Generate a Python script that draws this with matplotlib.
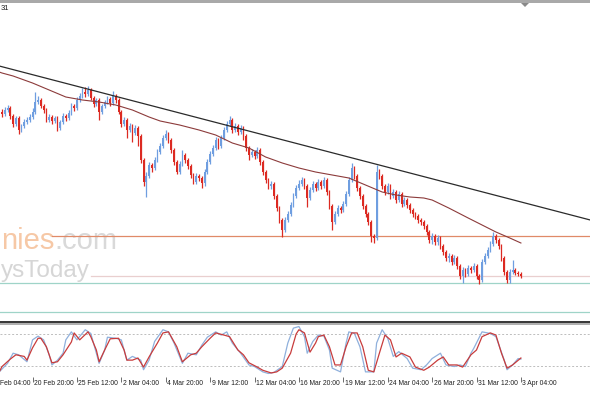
import matplotlib
matplotlib.use("Agg")
import matplotlib.pyplot as plt
from matplotlib.patches import Rectangle, Polygon
import matplotlib.transforms as mtransforms
import numpy as np

# ---------------- data (price in pips above an arbitrary base) ----------------
open_ = [218,216,220,222,214,206,212,200,204,208, 210,213,218,228,230,224,220,210,213,209,
         212,202,208,214,212,217,224,222,230,234, 238,236,240,232,226,230,218,224,228,231,
         227,234,230,218,206,210,200,204,197,202, 194,170,148,154,165,162,170,178,184,192,
         196,190,180,168,158,166,175,170,164,155, 148,154,152,147,158,168,176,182,190,184,
         192,200,206,210,200,204,198,202,194,182, 175,178,174,180,168,158,150,144,146,134,
         122,110,100,110,116,125,134,142,146,150, 144,132,140,146,142,148,144,150,138,124,
         108,116,122,120,126,136,150,162,154,142, 134,124,116,108,94,92,158,154,144,138,
         144,134,138,130,136,126,130,125,120,116, 114,110,108,104,98,90,94,88,92,84,
         78,72,74,68,72,64,54,60,56,62, 60,64,54,50,68,74,80,86,94,90,
         84,72,58,50,58,60,57,56]
close = [216,220,222,214,206,212,200,204,208,210, 213,218,228,230,224,220,210,213,209,212,
         202,208,214,212,217,224,222,230,234,238, 236,240,232,226,230,218,224,228,231,227,
         234,230,218,206,210,200,204,197,202,194, 170,148,154,165,162,170,178,184,192,196,
         190,180,168,158,166,175,170,164,155,148, 154,152,147,158,168,176,182,190,184,192,
         200,206,210,200,204,198,202,194,182,175, 178,174,180,168,158,150,144,146,134,122,
         110,100,110,116,125,134,142,146,150,144, 132,140,146,142,148,144,150,138,124,108,
         116,122,120,126,136,150,162,154,142,134, 124,116,108,94,92,158,154,144,138,144,
         134,138,130,136,126,130,125,120,116,114, 110,108,104,98,90,94,88,92,84,78,
         72,74,68,72,64,54,60,56,62,60, 64,54,50,68,74,80,86,94,90,84,
         72,58,50,58,60,57,56,54]
high = [221,223,225,224,216,214,214,206,211,213, 216,222,238,234,232,226,222,216,215,214,
        214,210,217,216,220,227,226,233,237,242, 243,244,242,234,232,232,226,230,234,233,
        239,236,232,220,213,212,207,206,205,204, 196,172,158,168,167,173,181,187,195,200,
        198,192,182,170,169,180,177,172,166,157, 157,156,154,161,171,179,185,193,192,195,
        203,209,214,212,207,206,205,204,196,184, 181,180,183,182,170,160,152,149,148,136,
        124,112,113,119,128,137,145,150,153,152, 146,143,149,148,151,150,153,152,140,126,
        119,125,124,129,139,153,167,164,156,144, 136,126,118,110,96,165,161,156,146,147,
        146,141,140,139,138,133,132,127,122,118, 116,112,110,106,100,97,96,95,94,86,
        80,77,76,75,74,66,63,62,65,64, 67,66,56,71,77,83,89,98,96,92,
        86,74,60,61,70,62,59,58]
low = [213,214,218,211,203,204,196,198,202,206, 208,211,216,226,222,217,208,208,206,207,
       199,200,206,209,210,215,219,220,228,232, 233,234,230,223,224,210,216,222,226,224,
       225,227,216,203,204,192,198,188,195,184, 167,144,133,152,158,160,168,176,182,190,
       187,177,165,156,156,164,167,161,152,146, 146,149,142,144,156,166,174,180,181,182,
       190,198,204,197,198,195,196,190,179,170, 173,171,172,165,155,147,141,141,131,119,
       107,93,98,108,114,123,132,140,144,141, 123,130,138,139,140,141,142,135,121,100,
       106,114,117,118,124,134,148,151,139,131, 121,113,105,88,87,90,151,141,135,136,
       131,132,127,128,123,124,122,117,113,111, 107,105,101,95,87,86,85,85,81,75,
       69,68,65,66,61,51,47,53,54,57, 58,51,46,48,66,72,78,84,87,81,
       69,55,47,47,56,55,54,52]

# moving average read at selected bars
ma_bars = [-1,0,4,11,17,23,29,35,41,47,53,57,64,71,77,83,89,95,101,107,113,119,125,
           131,137,142,147,152,155,161,168,173,178,183,187]
ma_vals = [258,257,254,247,240,233,230,228,225,220,213,209,205,200,195,187,182,173,167,
           162,158,155,152,145,138,135,133,132,130,122,112,105,98,92,87]

# descending trend line (two anchor points)
trend_bars = [-1, 212]
trend_vals = [264, 110]

# horizontal levels: value and first bar
level_vals = [94, 54, 47, 18]
level_start = [18, 32, -1, -1]

# stochastic oscillator
stoch_red_bars = [-1,0,3,5,8,9,11,13,14,16,18,20,22,25,26,28,31,32,34,35,37,39,42,44,45,47,49,51,
                  53,56,58,60,63,65,68,70,72,75,77,80,82,85,87,89,92,94,97,99,101,104,106,107,
                  109,111,113,114,116,118,120,122,124,126,128,130,132,134,136,138,140,142,144,
                  147,149,152,154,157,159,161,164,166,169,171,173,176,178,180,182,184,187]
stoch_red_vals = [9,19,33,41,38,31,54,72,72,56,26,28,41,65,82,69,84,75,50,28,50,71,72,50,31,31,35,18,
                  37,63,82,84,56,28,41,44,56,72,82,78,75,50,41,26,18,12,7,9,16,44,80,88,
                  82,46,63,75,78,56,22,22,56,82,82,56,12,9,44,78,69,37,44,
                  37,18,12,18,31,37,22,22,18,41,50,75,82,78,44,16,22,35]
stoch_blue_bars = [-1,2,4,6,9,11,13,15,17,18,20,22,23,25,27,30,32,34,35,37,38,41,43,45,47,50,51,53,
                   55,58,60,62,65,67,70,72,74,77,79,81,83,86,89,91,94,96,98,101,103,105,107,109,
                   110,112,114,116,118,119,122,124,125,127,129,131,134,135,137,139,141,143,146,148,
                   151,153,155,158,160,163,165,167,169,170,173,176,178,181,182,184,186,187]
stoch_blue_vals = [9,25,44,41,28,69,76,69,41,22,31,44,69,84,69,88,81,44,25,50,74,72,69,31,38,31,13,31,
                   66,88,84,63,25,44,41,59,74,84,78,84,63,44,22,19,9,6,8,19,63,91,94,75,
                   44,66,78,76,50,16,9,63,84,81,56,9,9,63,88,72,38,47,34,16,
                   13,22,34,44,22,19,22,19,44,53,84,81,75,31,13,22,34,33]
stoch_levels = [80, 20]

tick_bars = [11, 27, 43, 59, 75, 91, 107, 123, 139, 155, 171, 187]
tick_labels = ["20 Feb 20:00", "25 Feb 12:00", "2 Mar 04:00", "4 Mar 20:00",
               "9 Mar 12:00", "12 Mar 04:00", "16 Mar 20:00", "19 Mar 12:00", "24 Mar 04:00",
               "26 Mar 20:00", "31 Mar 12:00", "3 Apr 04:00"]
first_partial_label = "Feb 04:00"

# ---------------- figure ----------------
W, H = 590, 393
fig = plt.figure(figsize=(W / 100, H / 100), dpi=100)
fig.patch.set_facecolor("white")

def fy(py):
    return 1 - py / H

BULL = "#6f9ee0"
BEAR = "#dc2a22"
XL = (-0.72, 211.9)

main = fig.add_axes([0, fy(321), 1, (321 - 4) / H])
main.set_xlim(*XL)
main.set_ylim(9, 326)
main.axis("off")

o = np.array(open_, float)
c = np.array(close, float)
hi = np.array(high, float)
lo = np.array(low, float)
idx = np.arange(len(c))
cols = np.where(c >= o, BULL, BEAR)

main.vlines(idx, lo, hi, colors=cols, lw=0.9, zorder=3)
main.bar(idx, np.maximum(np.abs(c - o), 0.8), bottom=np.minimum(o, c), width=0.62,
         color=cols, linewidth=0, zorder=3)

main.plot(ma_bars, ma_vals, color="#8c3b3b", lw=0.8, zorder=4)
main.plot(trend_bars, trend_vals, color="#2b2b2b", lw=0.9, zorder=4)

level_cols = ["#e08a68", "#e9cfcf", "#9fd4c8", "#9fd4c8"]
for v, s, col in zip(level_vals, level_start, level_cols):
    main.plot([s, XL[1] + 5], [v, v], color=col, lw=0.9, zorder=2)

# watermark (visible part only)
wm1 = main.text(1 / W, fy(249), "nies", transform=fig.transFigure, ha="left", va="baseline",
                fontsize=21, color="#f6c8a6", family="Liberation Sans", zorder=0.5)
main.text(54 / W, fy(249), ".com", transform=fig.transFigure, ha="left", va="baseline",
          fontsize=21, color="#d9d9d9", family="Liberation Sans", zorder=0.5)
main.text(1 / W, fy(277), "ysToday", transform=fig.transFigure, ha="left", va="baseline",
          fontsize=17.5, color="#d6d6d6", family="Liberation Sans", zorder=0.5)

# stochastic panel
st = fig.add_axes([0, fy(377), 1, (377 - 323) / H])
st.set_xlim(*XL)
st.set_ylim(-0.6, 100.6)
for sp in st.spines.values():
    sp.set_visible(False)
st.set_yticks([])
for lv in stoch_levels:
    st.axhline(lv, color="#bdbdbd", lw=0.7, ls=(0, (2, 2)))
st.plot(stoch_blue_bars, stoch_blue_vals, color="#8fb0dc", lw=0.9)
st.plot(stoch_red_bars, stoch_red_vals, color="#c83c3c", lw=0.9)

st.set_xticks(tick_bars)
st.set_xticklabels(tick_labels)
st.tick_params(axis="x", direction="out", length=3.5, width=0.6, color="#555555",
               pad=-1.5, labelsize=4.9, labelcolor="#202020")
off = mtransforms.ScaledTranslation(1.5 / 100, 0, fig.dpi_scale_trans)
for lab in st.get_xticklabels():
    lab.set_horizontalalignment("left")
    lab.set_family("Liberation Sans")
    lab.set_transform(lab.get_transform() + off)
fig.text(0.5 / W, fy(383.5), first_partial_label, ha="left", va="center", fontsize=4.9,
         color="#202020", family="Liberation Sans")

# frame details
fig.add_artist(Rectangle((0, fy(3.3)), 1, 3.3 / H, transform=fig.transFigure,
                         facecolor="#a9a9a9", edgecolor="none", zorder=10))
fig.add_artist(Rectangle((0, fy(323.3)), 1, 2 / H, transform=fig.transFigure,
                         facecolor="#3a3a3a", edgecolor="none", zorder=10))
fig.add_artist(Rectangle((0, fy(325)), 1, 1.7 / H, transform=fig.transFigure,
                         facecolor="#b0b0b0", edgecolor="none", zorder=10))
fig.add_artist(Polygon([[521 / W, fy(3)], [529 / W, fy(3)], [525 / W, fy(7)]],
                       closed=True, transform=fig.transFigure, facecolor="#8a8a8a",
                       edgecolor="none", zorder=10))
fig.text(1 / W, fy(9), "31", ha="left", va="center", fontsize=5.5, color="#202020",
         family="Liberation Sans")

fig.savefig("out.png", dpi=100, facecolor="white")
